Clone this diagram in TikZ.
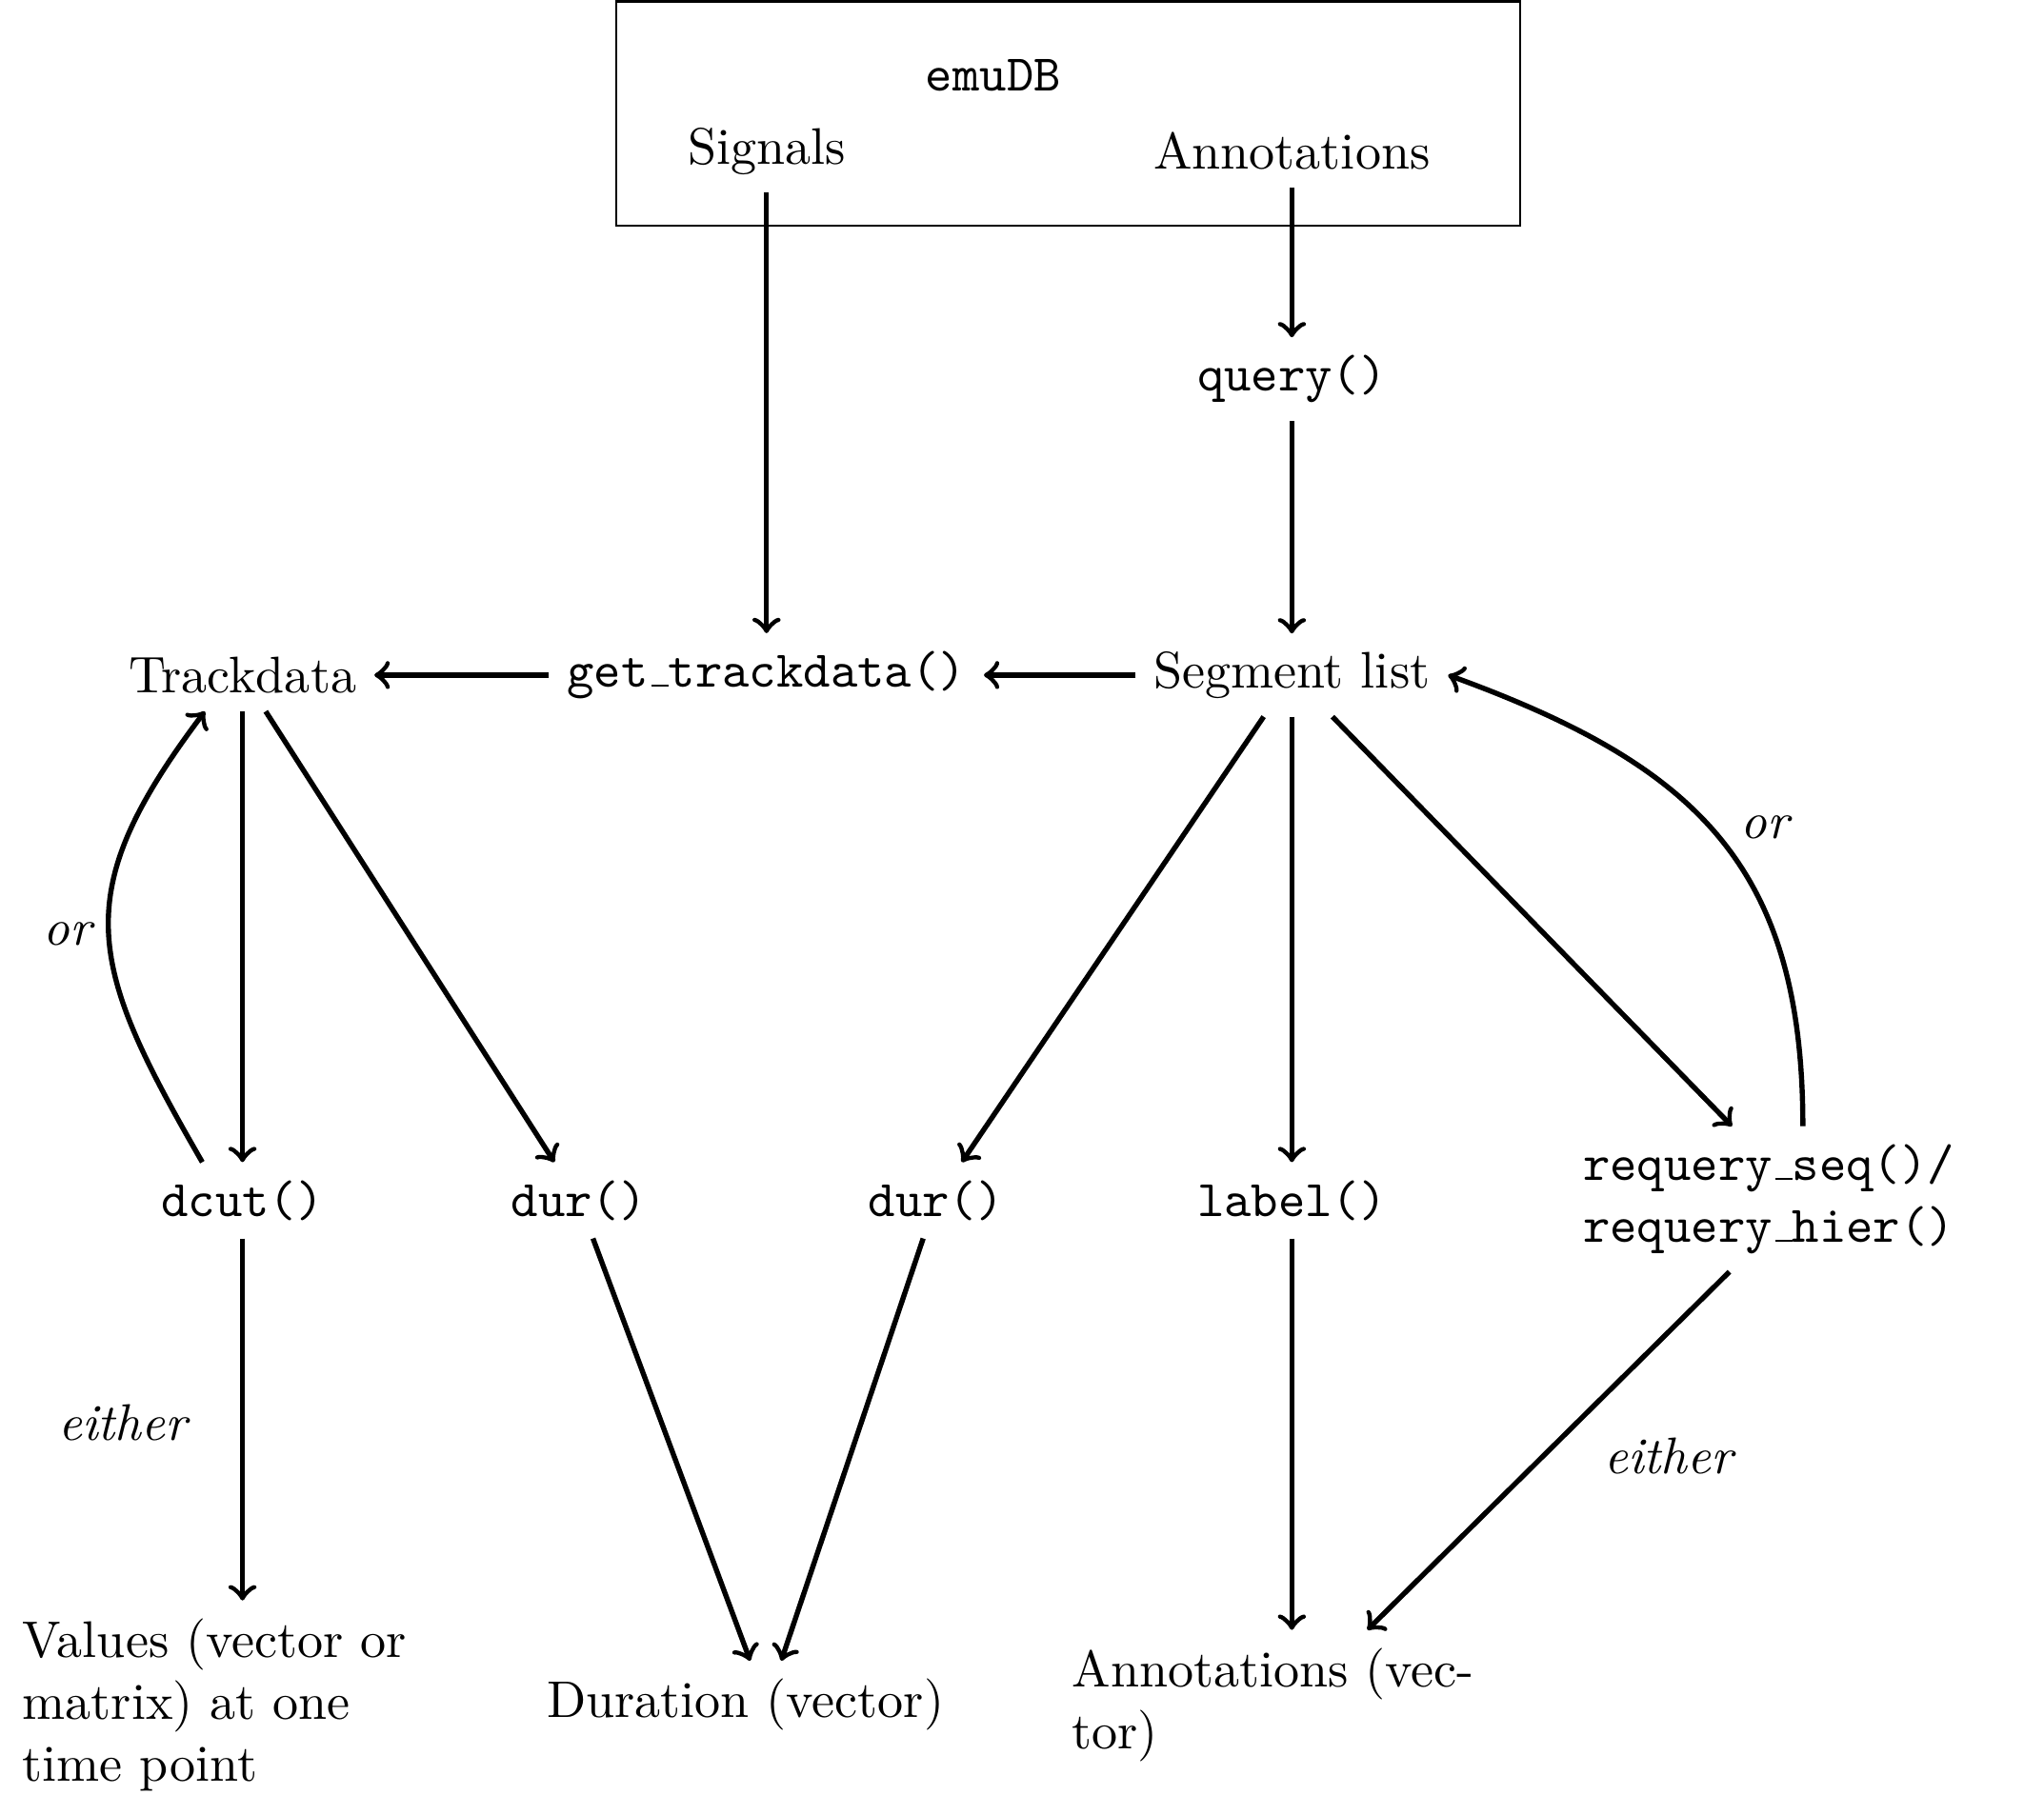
\documentclass[tikz,border=0pt]{standalone}
\newcommand{\uscore}{\kern0.6pt\vbox{\hrule width 3.3pt}}
\begin{document}
\begin{tikzpicture}[x=0.2532pt,y=0.2532pt,
  every node/.style={inner sep=3.33pt},
  conn/.style={->,line width=1pt},
  txt/.style={text width=3cm,align=left},
  lbl/.style={font=\itshape}]
\useasboundingbox (0,0) rectangle (1568,1392);
% database box
\node[draw,minimum width=175.5pt,minimum height=43.5pt] (db) at (819.5,1305) {};
\node (emu) at (762,1334.5) {\texttt{emuDB}};
\node (sig) at (588,1276) {Signals};
\node (ann) at (991,1276) {Annotations};
% main nodes
\node (query) at (991,1101) {\texttt{query()}};
\node (seg) at (991,874) {Segment list};
\node (gtd) at (588,874) {\texttt{get\uscore trackdata()}};
\node (track) at (186,874) {Trackdata};
\node (dcut) at (186,471) {\texttt{dcut()}};
\node (dura) at (444,471) {\texttt{dur()}};
\node (durb) at (718,471) {\texttt{dur()}};
\node (lab) at (991,471) {\texttt{label()}};
\node[txt] (req) at (1383,472) {\texttt{requery\uscore seq()/}\\\texttt{requery\uscore hier()}};
\node[txt] (vals) at (186,84) {Values (vector or\\matrix) at one\\time point};
\node[txt] (durv) at (588,84) {Duration (vector)};
\node[txt] (annv) at (991,84) {Annotations (vec-\\tor)};
% labels
\node[lbl] (or1) at (52,675) {or};
\node[lbl] (either1) at (94,300) {either};
\node[lbl] (or2) at (1354,757) {or};
\node[lbl] (either2) at (1280,275) {either};
% connectors
\draw[conn] (sig) -- (gtd);
\draw[conn] (ann) -- (query);
\draw[conn] (query) -- (seg);
\draw[conn] (seg) -- (gtd);
\draw[conn] (gtd) -- (track);
\draw[conn] (track) -- (dcut);
\draw[conn] (track) -- (dura);
\draw[conn] ([xshift=-7.8pt]dcut.north) to[out=120,in=233,looseness=1.3] ([xshift=-7.3pt]track.south);
\draw[conn] (seg) -- (durb);
\draw[conn] (seg) -- (lab);
\draw[conn] (seg) -- (req);
\draw[conn] (req.north) to[out=90,in=-20,looseness=1.17] (seg.east);
\draw[conn] (dcut) -- (vals);
\draw[conn] (dura) -- (durv);
\draw[conn] (durb) -- (durv);
\draw[conn] (lab) -- (annv);
\draw[conn] (req) -- (annv);
\end{tikzpicture}
\end{document}
